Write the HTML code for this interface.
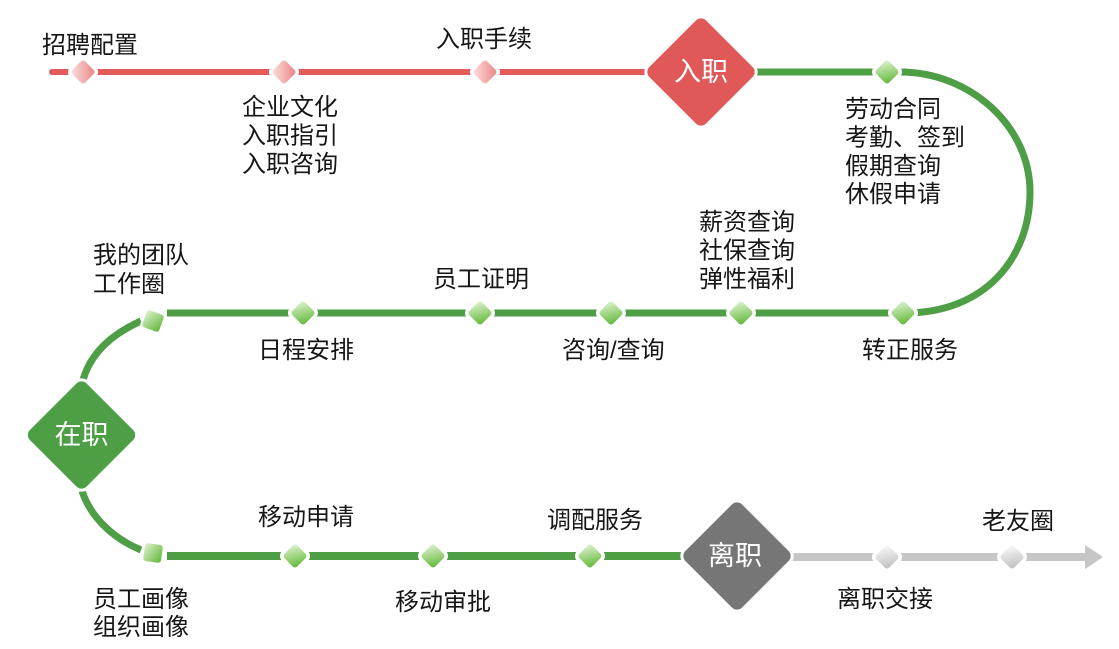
<!DOCTYPE html>
<html><head><meta charset="utf-8"><style>
html,body{margin:0;padding:0;background:#fff;}
svg{display:block;}
text{font-family:"Liberation Sans","Noto Sans CJK SC",sans-serif;}
.t{font-size:24px;fill:#161616;}
.w{font-size:27px;fill:#fff;}
</style></head><body>
<svg width="1119" height="649" viewBox="0 0 1119 649" xmlns="http://www.w3.org/2000/svg">
<defs>
<linearGradient id="gG" x1="0" y1="0.2" x2="1" y2="0.8"><stop offset="0" stop-color="#d6eec6"/><stop offset="1" stop-color="#68bb40"/></linearGradient>
<linearGradient id="gP" x1="0" y1="1" x2="1" y2="0"><stop offset="0" stop-color="#fde2e2"/><stop offset="1" stop-color="#ea8282"/></linearGradient>
<linearGradient id="gS" x1="0" y1="0.2" x2="1" y2="0.8"><stop offset="0" stop-color="#f6f6f6"/><stop offset="1" stop-color="#c2c2c2"/></linearGradient>
<g id="sd"><rect x="-9" y="-9" width="18" height="18" rx="3" transform="rotate(45)" stroke="#fff" stroke-width="7" paint-order="stroke"/></g>
</defs>

<!-- red line -->
<path d="M52,72 H650" stroke="#e35b5b" stroke-width="6" stroke-linecap="round" fill="none"/>
<!-- green top + curve + middle -->
<path d="M750,72 L900,72 C970,72 1030,126 1030,192 C1030,258 985,313 905,313 L167,313" stroke="#4e9e46" stroke-width="7" fill="none"/>
<!-- left arcs -->
<path d="M141,321 C110,335 90,355 83,380" stroke="#4e9e46" stroke-width="7" fill="none"/>
<path d="M82,491 C90,515 110,537 141,550" stroke="#4e9e46" stroke-width="7" fill="none"/>
<!-- bottom green -->
<path d="M167,556 H690" stroke="#4e9e46" stroke-width="8" fill="none"/>
<!-- gray -->
<path d="M785,557 H1088" stroke="#c6c6c6" stroke-width="8" fill="none"/>
<polygon points="1085,545 1103,557 1085,569" fill="#c6c6c6"/>

<!-- pink small diamonds -->
<g fill="url(#gP)">
<use href="#sd" x="83" y="72"/>
<use href="#sd" x="284" y="72"/>
<use href="#sd" x="485" y="72"/>
</g>
<!-- green small diamonds -->
<g fill="url(#gG)">
<use href="#sd" x="887" y="72"/>
<use href="#sd" x="303" y="313"/>
<use href="#sd" x="480" y="313"/>
<use href="#sd" x="611" y="313"/>
<use href="#sd" x="741" y="313"/>
<use href="#sd" x="903" y="313"/>
<use href="#sd" x="295" y="556"/>
<use href="#sd" x="433" y="556"/>
<use href="#sd" x="590" y="556"/>
</g>
<!-- gray small diamonds -->
<g fill="url(#gS)">
<use href="#sd" x="887" y="557"/>
<use href="#sd" x="1012" y="557"/>
</g>
<!-- left nodes (tilted squares) -->
<rect x="-9" y="-9" width="18" height="18" rx="3" fill="url(#gG)" stroke="#fff" stroke-width="4" paint-order="stroke" transform="translate(153,321) rotate(20)"/>
<rect x="-9" y="-9" width="18" height="18" rx="3" fill="url(#gG)" stroke="#fff" stroke-width="4" paint-order="stroke" transform="translate(153,553) rotate(8)"/>

<!-- big diamonds -->
<rect x="-40" y="-40" width="80" height="80" rx="7" fill="#e05858" stroke="#fff" stroke-width="6" paint-order="stroke" transform="translate(701,72) rotate(45)"/>
<rect x="-40" y="-40" width="80" height="80" rx="7" fill="#4e9e46" stroke="#fff" stroke-width="6" paint-order="stroke" transform="translate(81.5,435) rotate(45)"/>
<rect x="-40" y="-40" width="80" height="80" rx="7" fill="#767676" stroke="#fff" stroke-width="6" paint-order="stroke" transform="translate(737,556) rotate(45)"/>
<text class="w" x="701" y="81" text-anchor="middle">入职</text>
<text class="w" x="81.5" y="444" text-anchor="middle">在职</text>
<text class="w" x="735" y="565" text-anchor="middle">离职</text>

<!-- labels -->
<text class="t" x="42" y="53">招聘配置</text>
<text class="t" x="436" y="47">入职手续</text>
<text class="t" x="242" y="115">企业文化</text>
<text class="t" x="242" y="143.5">入职指引</text>
<text class="t" x="242" y="172">入职咨询</text>
<text class="t" x="845" y="117">劳动合同</text>
<text class="t" x="845" y="145.5">考勤、签到</text>
<text class="t" x="845" y="174">假期查询</text>
<text class="t" x="845" y="202">休假申请</text>
<text class="t" x="699" y="230">薪资查询</text>
<text class="t" x="699" y="258.5">社保查询</text>
<text class="t" x="699" y="287">弹性福利</text>
<text class="t" x="93" y="263">我的团队</text>
<text class="t" x="93" y="292">工作圈</text>
<text class="t" x="433" y="287">员工证明</text>
<text class="t" x="258" y="358">日程安排</text>
<text class="t" x="562" y="358">咨询/查询</text>
<text class="t" x="862" y="358">转正服务</text>
<text class="t" x="258" y="525">移动申请</text>
<text class="t" x="547" y="528">调配服务</text>
<text class="t" x="982" y="529">老友圈</text>
<text class="t" x="93" y="607">员工画像</text>
<text class="t" x="93" y="635">组织画像</text>
<text class="t" x="395" y="610">移动审批</text>
<text class="t" x="837" y="607">离职交接</text>
</svg>
</body></html>
